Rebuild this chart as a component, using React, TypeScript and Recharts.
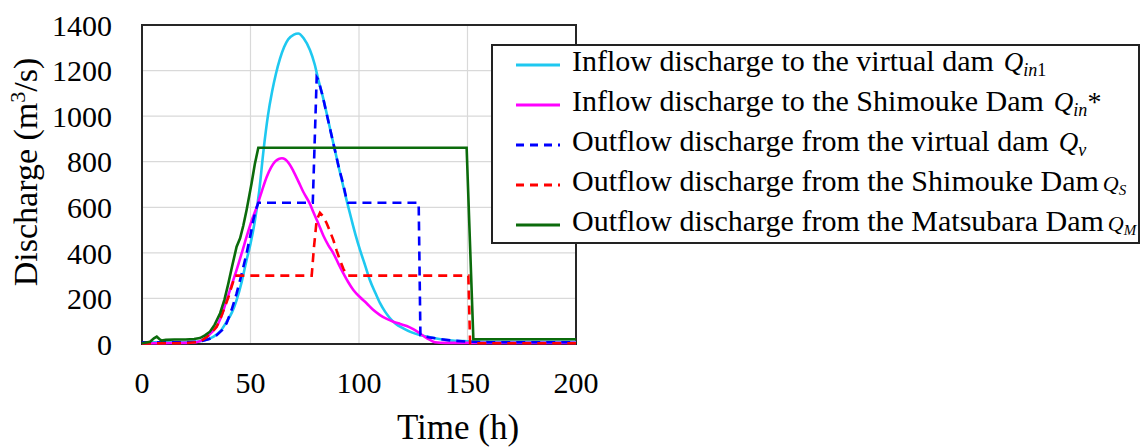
import React from 'react';
import { LineChart, Line, XAxis, YAxis, CartesianGrid, Legend, ReferenceArea } from 'recharts';

// Inflow to the virtual dam (Qin1)
const qin1Time = [0, 10, 20, 25, 30, 33, 36, 39, 41.5, 43.6, 46, 48.2, 50, 52, 54, 56, 58, 60, 61.7, 63.6, 65.5, 67.4, 70, 72, 74.5, 77.4, 79.5, 81.3, 83.2, 85.1, 87, 88.9, 90.8, 92.8, 94.7, 96.6, 98.5, 100.5, 103, 105, 107.5, 109.7, 112, 114.3, 117, 120.4, 124, 128, 132.7, 137, 143, 150, 160, 180, 200];
const qin1Flow = [8, 8, 8, 10, 20, 32, 55, 98, 140, 193, 275, 369, 440, 540, 670, 850, 1000, 1110, 1185, 1252, 1303, 1337, 1358, 1363, 1342, 1290, 1230, 1158, 1090, 1012, 930, 851, 770, 690, 615, 544, 476, 412, 340, 281, 225, 179, 142, 113, 88, 69, 52, 39, 30, 22, 15, 12, 10, 10, 10];

// Inflow to the Shimouke Dam (Qin*)
const qinStarTime = [0, 10, 20, 25, 28, 30, 32, 34.4, 36.5, 39, 41.3, 43.6, 46, 48.2, 50.5, 52.9, 55.2, 57.5, 59.5, 61.3, 63, 64.5, 66, 67.9, 69.7, 72, 74.3, 77.4, 78.9, 81.2, 83.6, 85.9, 88.2, 90.5, 92.8, 95, 97.4, 100.5, 103.5, 106.5, 109.7, 112.8, 115.8, 119, 122, 125, 128, 130.5, 132.7, 135, 140, 160, 200];
const qinStarFlow = [3, 4, 5, 8, 18, 32, 50, 76, 120, 193, 258, 325, 400, 471, 540, 602, 670, 734, 775, 800, 812, 815, 810, 790, 760, 715, 668, 615, 580, 530, 475, 433, 398, 353, 310, 272, 237, 205, 179, 150, 127, 110, 98, 88, 79, 65, 47, 30, 18, 8, 5, 5, 5];

// Outflow from the virtual dam (Qv)
const qvTime = [0, 10, 20, 25, 28, 31, 34.4, 37, 39, 41.3, 43.6, 46, 48.2, 50, 51.3, 52.5, 53.6, 78.7, 80.5, 81.3, 83.2, 85.1, 87, 88.9, 90.8, 92.8, 94.3, 95, 127.5, 128.3, 132, 137, 143, 150, 160, 200];
const qvFlow = [8, 8, 8, 10, 14, 22, 39, 62, 91, 150, 222, 310, 398, 480, 544, 590, 620, 620, 1170, 1158, 1090, 1010, 930, 851, 770, 700, 632, 620, 620, 39, 30, 22, 15, 10, 8, 8];

// Outflow from the Shimouke Dam (QS)
const qsTime = [0, 10, 20, 25, 28, 30, 32, 34.4, 36.3, 38.2, 40, 41.3, 42.9, 78.2, 79.2, 80.5, 82, 83.5, 85.1, 86.6, 88.2, 89.7, 91.2, 92.8, 94.3, 95, 150.4, 151.2, 200];
const qsFlow = [2, 3, 4, 8, 18, 32, 50, 76, 115, 164, 210, 252, 300, 300, 420, 544, 576, 560, 530, 495, 456, 410, 369, 330, 303, 300, 300, 3, 3];

// Outflow from the Matsubara Dam (QM)
const qmTime = [0, 3.7, 5.5, 6.8, 8, 9, 11, 15, 20, 24, 26.7, 29, 31.3, 33.5, 36, 38, 39.8, 41.5, 43.6, 45.2, 46.7, 48.2, 50.5, 52, 53.6, 149.6, 152.7, 200];
const qmFlow = [3, 10, 25, 32, 22, 15, 18, 20, 20, 22, 26, 38, 54, 85, 135, 195, 266, 340, 427, 464, 520, 588, 705, 790, 861, 861, 21, 21];

const xTicks = [0, 50, 100, 150, 200];
const yTicks = [0, 200, 400, 600, 800, 1000, 1200, 1400];

const zip = (t: number[], v: number[]) => t.map((x, i) => ({ t: x, q: v[i] }));

const FONT = 'Liberation Serif, serif';

const series = [
  { key: 'qin1', data: zip(qin1Time, qin1Flow), color: '#1ec8f0', dash: undefined, type: 'monotone',
    label: 'Inflow discharge to the virtual dam', sub: 'in', subUp: '1', tail: '', small: false },
  { key: 'qinStar', data: zip(qinStarTime, qinStarFlow), color: '#ff00ff', dash: undefined, type: 'monotone',
    label: 'Inflow discharge to the Shimouke Dam', sub: 'in', subUp: '', tail: '*', small: false },
  { key: 'qv', data: zip(qvTime, qvFlow), color: '#0000ff', dash: '9 6', type: 'linear',
    label: 'Outflow discharge from the virtual dam', sub: 'v', subUp: '', tail: '', small: false },
  { key: 'qs', data: zip(qsTime, qsFlow), color: '#ff0000', dash: '9 6', type: 'linear',
    label: 'Outflow discharge from the Shimouke Dam', sub: 'S', subUp: '', tail: '', small: true },
  { key: 'qm', data: zip(qmTime, qmFlow), color: '#0b6b0b', dash: undefined, type: 'linear',
    label: 'Outflow discharge from the Matsubara Dam', sub: 'M', subUp: '', tail: '', small: true },
];

const LegendBox = () => (
  <div
    style={{
      boxSizing: 'border-box',
      position: 'relative',
      width: 649,
      height: 200,
      border: '2px solid #222',
      background: '#fff',
      fontFamily: FONT,
      color: '#000',
    }}
  >
    {series.map((s, i) => (
      <div key={s.key} style={{ position: 'absolute', left: 0, top: i * 40 - 1, height: 40, display: 'flex', alignItems: 'center' }}>
        <svg width={44} height={10} style={{ marginLeft: 23, marginRight: 12, flexShrink: 0 }}>
          <line x1={0} y1={5} x2={44} y2={5} stroke={s.color} strokeWidth={3} strokeDasharray={s.dash ? '8 6' : undefined} />
        </svg>
        <span style={{ fontSize: 30, whiteSpace: 'nowrap', lineHeight: '30px' }}>
          {s.label}
          <span style={{ fontStyle: 'italic', fontSize: s.small ? 22 : 27, marginLeft: s.small ? 4 : 10 }}>Q</span>
          <span style={{ fontStyle: 'italic', fontSize: s.small ? 15 : 18, verticalAlign: s.small ? -4 : -5 }}>{s.sub}</span>
          {s.subUp && <span style={{ fontSize: 18, verticalAlign: -5 }}>{s.subUp}</span>}
          {s.tail && <span style={{ fontSize: 28 }}>{s.tail}</span>}
        </span>
      </div>
    ))}
  </div>
);

const YTitle = () => (
  <text x={37} y={172} transform="rotate(-90, 37, 172)" textAnchor="middle" style={{ fontFamily: FONT }} fontSize={34} fill="#000">
    Discharge (m<tspan dy={-12} fontSize={22}>3</tspan><tspan dy={12}>/s)</tspan>
  </text>
);

const XTitle = () => (
  <text x={458} y={439} textAnchor="middle" style={{ fontFamily: FONT }} fontSize={35} fill="#000">
    Time (h)
  </text>
);

const tickStyle = { fontFamily: FONT, fontSize: 30, fill: '#000', style: { fontFamily: FONT } };

export default function App() {
  return (
    <div style={{ position: 'absolute', left: 0, top: 0, width: 1142, height: 448, background: '#fff', fontFamily: FONT }}>
      <LineChart width={1142} height={448} margin={{ top: 25, right: 566, bottom: 0, left: 0 }} style={{ fontFamily: FONT }}>
        <CartesianGrid stroke="#d9d9d9" strokeWidth={1.2} />
        <XAxis
          dataKey="t"
          type="number"
          domain={[0, 200]}
          ticks={xTicks}
          allowDuplicatedCategory={false}
          height={104}
          tickLine={false}
          axisLine={false}
          tickSize={0}
          tickMargin={28}
          tick={tickStyle}
          interval={0}
          label={<XTitle />}
        />
        <YAxis
          type="number"
          domain={[0, 1400]}
          ticks={yTicks}
          width={142}
          tickLine={false}
          axisLine={false}
          tickSize={0}
          tickMargin={30}
          tick={tickStyle}
          interval={0}
          label={<YTitle />}
        />
        <ReferenceArea x1={0} x2={200} y1={0} y2={1400} fill="none" stroke="#262626" strokeWidth={2} ifOverflow="visible" />
        {series.map((s) => (
          <Line
            key={s.key}
            data={s.data}
            dataKey="q"
            type={s.type as any}
            stroke={s.color}
            strokeWidth={2.6}
            strokeDasharray={s.dash}
            dot={false}
            activeDot={false}
            isAnimationActive={false}
          />
        ))}
        <Legend
          layout="vertical"
          align="center"
          verticalAlign="middle"
          content={<LegendBox />}
          wrapperStyle={{ position: 'absolute', left: 491, top: 44, width: 649, height: 200 }}
        />
      </LineChart>
    </div>
  );
}
